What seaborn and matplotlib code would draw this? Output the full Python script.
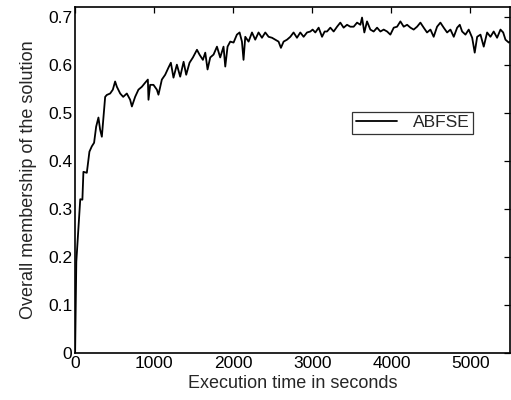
import numpy as np
import pandas as pd
import matplotlib
matplotlib.use('Agg')
import matplotlib.pyplot as plt
import seaborn as sns

# execution time (s) and overall membership
time_s = [0, 15, 65, 92, 105, 148, 181, 211, 240, 266, 295, 316, 338, 358, 380,
          401, 443, 477, 506, 528, 570, 608, 654, 696, 718, 759, 801, 844, 886,
          920, 928, 949, 991, 1034, 1054, 1097, 1139, 1181, 1211, 1244, 1287,
          1329, 1372, 1405, 1447, 1490, 1541, 1573, 1616, 1646, 1675, 1709,
          1751, 1794, 1835, 1877, 1899, 1928, 1962, 2004, 2046, 2080, 2110,
          2130, 2152, 2194, 2237, 2278, 2320, 2363, 2405, 2447, 2490, 2532,
          2573, 2603, 2637, 2680, 2722, 2763, 2806, 2848, 2890, 2933, 2975,
          3004, 3038, 3080, 3123, 3156, 3186, 3228, 3270, 3313, 3354, 3396,
          3439, 3481, 3523, 3566, 3608, 3629, 3658, 3692, 3734, 3776, 3819,
          3861, 3903, 3946, 3987, 4030, 4072, 4114, 4156, 4199, 4241, 4282,
          4325, 4367, 4409, 4451, 4494, 4535, 4578, 4620, 4662, 4705, 4747,
          4789, 4832, 4865, 4895, 4937, 4978, 5022, 5054, 5085, 5127, 5168,
          5211, 5253, 5294, 5337, 5380, 5414, 5443, 5485, 5500]
membership = [0.0, 0.19, 0.32, 0.319, 0.377, 0.375, 0.419, 0.43, 0.4375, 0.471,
              0.49, 0.465, 0.45, 0.49, 0.533, 0.537, 0.54, 0.548, 0.565, 0.554,
              0.54, 0.533, 0.54, 0.527, 0.513, 0.533, 0.548, 0.554, 0.5625,
              0.569, 0.527, 0.558, 0.558, 0.548, 0.5375, 0.569, 0.579, 0.594,
              0.604, 0.573, 0.6, 0.575, 0.606, 0.579, 0.604, 0.615, 0.631,
              0.621, 0.61, 0.625, 0.59, 0.615, 0.621, 0.6375, 0.615, 0.6375,
              0.596, 0.6375, 0.648, 0.646, 0.6625, 0.667, 0.648, 0.61, 0.658,
              0.648, 0.667, 0.652, 0.667, 0.656, 0.667, 0.658, 0.656, 0.652,
              0.648, 0.635, 0.648, 0.652, 0.658, 0.667, 0.656, 0.667, 0.658,
              0.667, 0.669, 0.673, 0.667, 0.677, 0.658, 0.669, 0.669, 0.677,
              0.669, 0.679, 0.6875, 0.677, 0.683, 0.679, 0.679, 0.6875, 0.683,
              0.698, 0.667, 0.69, 0.673, 0.669, 0.677, 0.669, 0.673, 0.669,
              0.6625, 0.677, 0.679, 0.69, 0.679, 0.683, 0.677, 0.673, 0.679,
              0.6875, 0.677, 0.667, 0.673, 0.658, 0.679, 0.6875, 0.677, 0.667,
              0.673, 0.658, 0.677, 0.683, 0.669, 0.6625, 0.673, 0.656, 0.625,
              0.658, 0.6625, 0.6375, 0.667, 0.658, 0.669, 0.656, 0.673, 0.667,
              0.652, 0.646, 0.648]

df = pd.DataFrame({'time': time_s, 'membership': membership})

sns.set_style('white')
plt.rcParams['font.family'] = ['Liberation Sans', 'DejaVu Sans']

fig = plt.figure(figsize=(5.11, 4.0), dpi=100)
ax = fig.add_axes([0.147, 0.1175, 0.851, 0.865])

sns.lineplot(data=df, x='time', y='membership', ax=ax, color='black',
             linewidth=1.3, label='ABFSE')

ax.set_xlim(0, 5500)
ax.set_ylim(0, 0.72)
ax.set_xticks([0, 1000, 2000, 3000, 4000, 5000])
ax.set_yticks([0, 0.1, 0.2, 0.3, 0.4, 0.5, 0.6, 0.7])
ax.set_yticklabels(['0', '0.1', '0.2', '0.3', '0.4', '0.5', '0.6', '0.7'])
ax.tick_params(direction='in', length=4, width=0.9, labelsize=12.5,
               top=True, right=True, colors='black', pad=2)
for sp in ax.spines.values():
    sp.set_color('black')
    sp.set_linewidth(1.2)

ax.set_xlabel('Execution time in seconds', fontsize=13, labelpad=3)
ax.set_ylabel('Overall membership of the solution', fontsize=13, labelpad=8)

leg = ax.legend(loc='upper left', bbox_to_anchor=(0.637, 0.697), fontsize=12.5,
                frameon=True, fancybox=False, handlelength=2.4,
                borderpad=0.2, handletextpad=0.9, borderaxespad=0)
leg.get_frame().set_edgecolor('black')
leg.get_frame().set_linewidth(0.9)

fig.savefig('out.png', dpi=100)
